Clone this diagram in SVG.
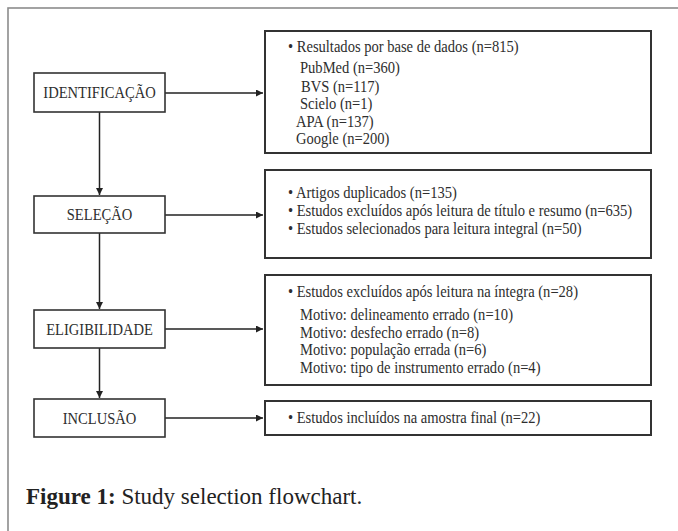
<svg xmlns="http://www.w3.org/2000/svg" width="678" height="531" viewBox="0 0 678 531">
<style>
.frame{fill:none;stroke:#8c8c8c;stroke-width:1.6}
.lbox{fill:#fff;stroke:#333;stroke-width:1.6}
.rbox{fill:#fff;stroke:#333;stroke-width:2}
.t{font-family:"Liberation Serif","Times New Roman",serif;font-size:16px;fill:#2e2e2e}
.c{text-anchor:middle}
.edge{stroke:#222;stroke-width:1.5;fill:none}
.cap{font-family:"Liberation Serif","Times New Roman",serif;font-size:23px;fill:#222}
</style>
<defs>
<marker id="ah" viewBox="0 0 10 10" refX="10" refY="5" markerWidth="7" markerHeight="7" markerUnits="userSpaceOnUse" orient="auto">
<path d="M0,0 L10,5 L0,10 z" fill="#222"/>
</marker>
</defs>
<rect width="678" height="531" fill="#fff"/>
<rect class="frame" x="8" y="8" width="720" height="580"/>

<g id="connectors">
<line class="edge" x1="165" y1="93" x2="263" y2="93" marker-end="url(#ah)"/>
<line class="edge" x1="165" y1="215" x2="263" y2="215" marker-end="url(#ah)"/>
<line class="edge" x1="165" y1="329" x2="263" y2="329" marker-end="url(#ah)"/>
<line class="edge" x1="165" y1="418" x2="263" y2="418" marker-end="url(#ah)"/>
<line class="edge" x1="99.5" y1="112" x2="99.5" y2="195" marker-end="url(#ah)"/>
<line class="edge" x1="99.5" y1="233" x2="99.5" y2="309" marker-end="url(#ah)"/>
<line class="edge" x1="99.5" y1="348" x2="99.5" y2="398" marker-end="url(#ah)"/>
</g>

<g id="identificacao">
<rect class="lbox" x="34" y="73" width="131" height="39"/>
<text class="t c" transform="translate(99.5 98) scale(0.91 1)">IDENTIFICAÇÃO</text>
</g>
<g id="selecao">
<rect class="lbox" x="34" y="196" width="131" height="37"/>
<text class="t c" transform="translate(99.5 220) scale(0.91 1)">SELEÇÃO</text>
</g>
<g id="elegibilidade">
<rect class="lbox" x="34" y="310" width="131" height="38"/>
<text class="t c" transform="translate(99.5 334.5) scale(0.91 1)">ELIGIBILIDADE</text>
</g>
<g id="inclusao">
<rect class="lbox" x="34" y="399" width="131" height="38"/>
<text class="t c" transform="translate(99.5 423.5) scale(0.91 1)">INCLUSÃO</text>
</g>

<g id="resultados">
<rect class="rbox" x="265" y="31" width="386" height="122"/>
<text class="t" transform="translate(288 52) scale(0.91 1)">• Resultados por base de dados (n=815)</text>
<text class="t" transform="translate(300 73) scale(0.91 1)">PubMed (n=360)</text>
<text class="t" transform="translate(301 91.5) scale(0.91 1)">BVS (n=117)</text>
<text class="t" transform="translate(300 109) scale(0.91 1)">Scielo (n=1)</text>
<text class="t" transform="translate(296 126.5) scale(0.91 1)">APA (n=137)</text>
<text class="t" transform="translate(296 143.5) scale(0.91 1)">Google (n=200)</text>
</g>
<g id="selecao-detalhe">
<rect class="rbox" x="265" y="170" width="386" height="88"/>
<text class="t" transform="translate(288 198) scale(0.91 1)">• Artigos duplicados (n=135)</text>
<text class="t" transform="translate(288 216) scale(0.91 1)">• Estudos excluídos após leitura de título e resumo (n=635)</text>
<text class="t" transform="translate(288 234) scale(0.91 1)">• Estudos selecionados para leitura integral (n=50)</text>
</g>
<g id="elegibilidade-detalhe">
<rect class="rbox" x="265" y="275" width="386" height="110"/>
<text class="t" transform="translate(288 297) scale(0.91 1)">• Estudos excluídos após leitura na íntegra (n=28)</text>
<text class="t" transform="translate(300 320) scale(0.91 1)">Motivo: delineamento errado (n=10)</text>
<text class="t" transform="translate(300 337.5) scale(0.91 1)">Motivo: desfecho errado (n=8)</text>
<text class="t" transform="translate(300 355) scale(0.91 1)">Motivo: população errada (n=6)</text>
<text class="t" transform="translate(300 372.5) scale(0.91 1)">Motivo: tipo de instrumento errado (n=4)</text>
</g>
<g id="inclusao-detalhe">
<rect class="rbox" x="265" y="401" width="386" height="34"/>
<text class="t" transform="translate(288 423) scale(0.91 1)">• Estudos incluídos na amostra final (n=22)</text>
</g>

<text class="cap" x="26" y="504"><tspan font-weight="bold">Figure 1:</tspan> Study selection flowchart.</text>
</svg>
